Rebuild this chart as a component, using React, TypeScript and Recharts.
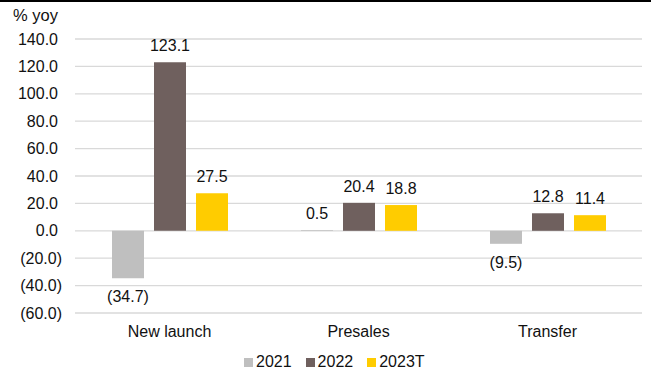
import { Bar, BarChart, CartesianGrid, LabelList, Legend, XAxis, YAxis } from "recharts"

const categories = ["New launch", "Presales", "Transfer"]
const y2021 = [-34.7, 0.5, -9.5]
const y2022 = [123.1, 20.4, 12.8]
const y2023T = [27.5, 18.8, 11.4]
const yTicks = [-60, -40, -20, 0, 20, 40, 60, 80, 100, 120, 140]

const series = [
  { key: "y2021", name: "2021", color: "#BFBFBF" },
  { key: "y2022", name: "2022", color: "#6F605E" },
  { key: "y2023T", name: "2023T", color: "#FFCC00" }
]

const data = categories.map((c, i) => ({
  name: c,
  y2021: y2021[i],
  y2022: y2022[i],
  y2023T: y2023T[i]
}))

const FONT = "'Liberation Sans', Arial, sans-serif"
const TEXT = "#111"

const fmt = (v: number) =>
  v < 0 ? `(${Math.abs(v).toFixed(1)})` : v.toFixed(1)

// value labels: above positive bars, below negative ones
function ValueLabel(props: any) {
  const { x, y, width, height, value } = props
  const v = Number(value)
  const top = Math.min(y, y + height)
  const bottom = Math.max(y, y + height)
  const cx = x + width / 2
  const ty = v < 0 ? bottom + 24 : top - 11
  return (
    <text
      x={cx}
      y={ty}
      textAnchor="middle"
      fontSize={16}
      fontFamily={FONT}
      fill={TEXT}
    >
      {fmt(v)}
    </text>
  )
}

// excel-style number format: positives leave room for the ")"
function YTick(props: any) {
  const { x, y, payload } = props
  const v = Number(payload.value)
  return (
    <text
      x={v < 0 ? x : x - 4}
      y={y}
      dy="0.355em"
      textAnchor="end"
      fontSize={16}
      fontFamily={FONT}
      fill={TEXT}
    >
      {fmt(v)}
    </text>
  )
}

function LegendBox() {
  return (
    <div
      style={{
        height: 20,
        display: "flex",
        alignItems: "center",
        paddingLeft: 244,
        fontFamily: FONT,
        fontSize: 16,
        color: TEXT
      }}
    >
      {series.map((s) => (
        <div
          key={s.key}
          style={{ display: "flex", alignItems: "center", marginRight: 14 }}
        >
          <span
            style={{
              width: 9,
              height: 9,
              background: s.color,
              display: "inline-block",
              marginRight: 3
            }}
          />
          <span>{s.name}</span>
        </div>
      ))}
    </div>
  )
}

export default function App() {
  return (
    <div
      style={{
        position: "relative",
        width: 651,
        height: 378,
        background: "#fff",
        fontFamily: FONT
      }}
    >
      <style>{`body{margin:0}`}</style>
      <div
        style={{
          position: "absolute",
          left: 0,
          top: 0,
          width: 651,
          height: 2,
          background: "#000"
        }}
      />
      <div
        style={{
          position: "absolute",
          left: 13,
          top: 6,
          fontSize: 16.5,
          color: TEXT,
          fontFamily: FONT
        }}
      >
        % yoy
      </div>
      <BarChart
        width={651}
        height={378}
        data={data}
        margin={{ top: 39, right: 9, bottom: 6, left: 0 }}
        barSize={32}
        barGap={10}
      >
        <CartesianGrid vertical={false} stroke="#D9D9D9" strokeWidth={1.3} />
        <XAxis
          dataKey="name"
          axisLine={false}
          tickLine={false}
          tickMargin={7}
          height={39}
          interval={0}
          tick={{ fontSize: 16, fill: TEXT, fontFamily: FONT }}
        />
        <YAxis
          domain={[-60, 140]}
          ticks={yTicks}
          axisLine={false}
          tickLine={false}
          tickMargin={7}
          width={75}
          tick={<YTick />}
        />
        <Legend verticalAlign="bottom" content={() => <LegendBox />} />
        {series.map((s) => (
          <Bar
            key={s.key}
            dataKey={s.key}
            name={s.name}
            fill={s.color}
            isAnimationActive={false}
          >
            <LabelList dataKey={s.key} content={ValueLabel} />
          </Bar>
        ))}
      </BarChart>
    </div>
  )
}
